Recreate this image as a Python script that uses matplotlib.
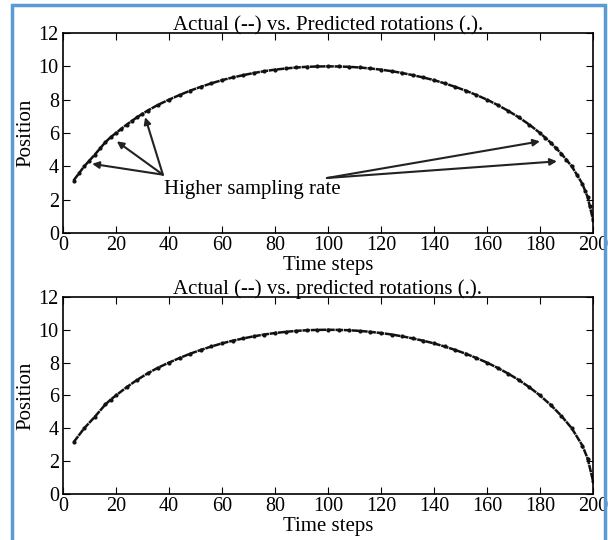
import matplotlib
matplotlib.use("Agg")
import matplotlib.pyplot as plt
from matplotlib.patches import Rectangle

plt.rcParams['font.family'] = ['Liberation Serif', 'DejaVu Serif']

# actual rotations
t_actual = [4, 8, 12, 16, 18, 20, 24, 28, 32, 36, 40, 44, 48, 52, 56, 60, 64, 68,
            72, 76, 80, 84, 88, 92, 96, 100, 104, 108, 112, 116, 120, 124, 128,
            132, 136, 140, 144, 148, 152, 156, 160, 164, 168, 172, 176, 180, 184,
            188, 192, 196, 198, 200]
pos_actual = [3.15, 4.0, 4.7, 5.45, 5.75, 6.0, 6.5, 6.95, 7.35, 7.7, 8.0, 8.28,
              8.54, 8.77, 8.98, 9.17, 9.33, 9.47, 9.6, 9.71, 9.8, 9.87, 9.93,
              9.97, 9.99, 10.0, 9.99, 9.97, 9.93, 9.87, 9.8, 9.71, 9.6, 9.47,
              9.33, 9.17, 8.98, 8.77, 8.54, 8.28, 8.0, 7.68, 7.33, 6.94, 6.5,
              6.0, 5.43, 4.77, 4.0, 2.95, 2.15, 0.8]

# extra predicted samples near the ends (higher sampling rate, top plot)
t_extra = [6, 10, 14, 22, 26, 30, 182, 186, 190, 194, 197, 199]
pos_extra = [3.6, 4.35, 5.1, 6.25, 6.75, 7.15, 5.72, 5.1, 4.4, 3.5, 2.55, 1.6]

axes_pos = [[0.1036, 0.5685, 0.8717, 0.3704], [0.1036, 0.0852, 0.8717, 0.365]]
titles = ["Actual (--) vs. Predicted rotations (.).",
          "Actual (--) vs. predicted rotations (.)."]

fig = plt.figure(figsize=(6.08, 5.4), dpi=100)
fig.patches.append(Rectangle((0.02, -0.01), 0.975, 1.0, transform=fig.transFigure,
                             fill=False, edgecolor='#5b9bd5', linewidth=2.5))

for i, pos in enumerate(axes_pos):
    ax = fig.add_axes(pos)
    ax.plot(t_actual, pos_actual, '--', color='#111111', linewidth=1.8, dashes=(3, 0.3))
    ax.plot(t_actual, pos_actual, '.', color='#111111', markersize=4)
    if i == 0:
        ax.plot(t_extra, pos_extra, '.', color='#111111', markersize=4)
    ax.set_xlim(0, 200)
    ax.set_ylim(0, 12)
    ax.set_xticks(range(0, 201, 20))
    ax.set_yticks(range(0, 13, 2))
    ax.tick_params(direction='in', top=True, right=True, labelsize=14.5, length=5,
                   pad=3)
    ax.tick_params(axis='x', pad=2)
    ax.set_title(titles[i], fontsize=15, pad=2)
    ax.set_xlabel("Time steps", fontsize=15, labelpad=1)
    ax.set_ylabel("Position", fontsize=15, labelpad=2)
    for s in ax.spines.values():
        s.set_linewidth(1.2)

    if i == 0:
        ax.text(38, 2.6, "Higher sampling rate", fontsize=15, va='center', ha='left')
        for tip in [(11, 4.15), (20.3, 5.5), (31, 6.95)]:
            ax.annotate("", xy=tip, xytext=(37.7, 3.5),
                        arrowprops=dict(arrowstyle='-|>', color='#222222', lw=1.5,
                                        mutation_scale=10, shrinkA=0, shrinkB=0))
        for tip in [(180, 5.5), (186.4, 4.3)]:
            ax.annotate("", xy=tip, xytext=(99.6, 3.3),
                        arrowprops=dict(arrowstyle='-|>', color='#222222', lw=1.5,
                                        mutation_scale=10, shrinkA=0, shrinkB=0))

fig.savefig("out.png", dpi=100)
